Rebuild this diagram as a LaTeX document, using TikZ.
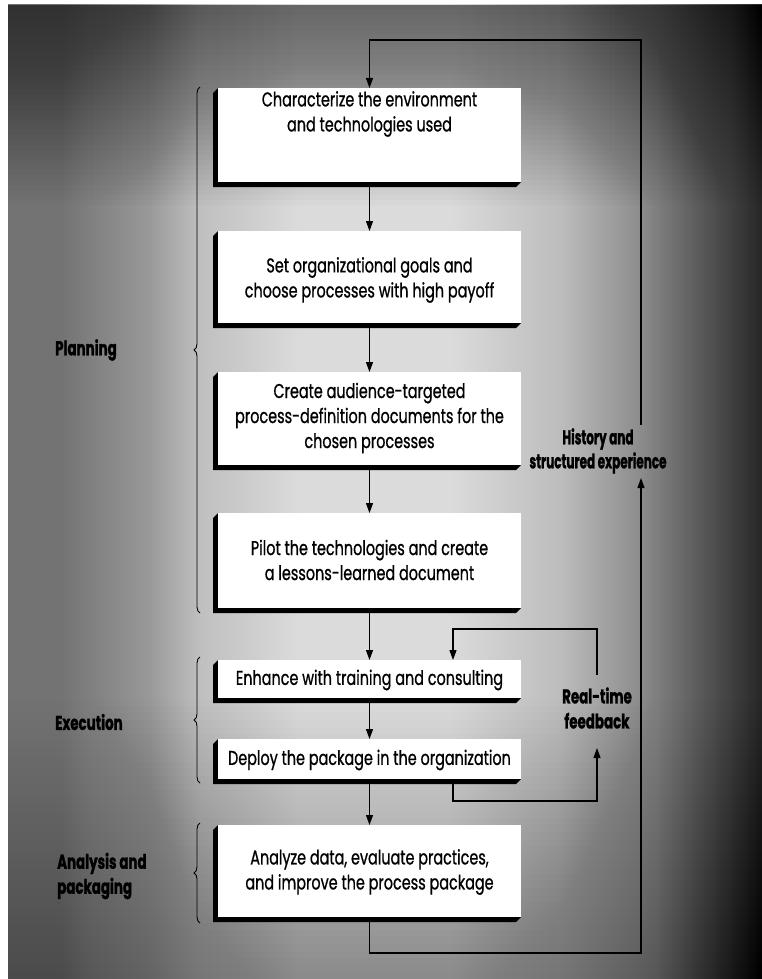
\documentclass[tikz,border=0pt]{standalone}
\usepackage{fontspec}
\setmainfont{Poppins}[FakeStretch=0.72,FakeBold=0.8]
\newfontfamily\lblfont{Poppins}[FakeStretch=0.67,FakeBold=1.2]
\newfontfamily\histfont{Poppins}[FakeStretch=0.6,FakeBold=1.2]
\usetikzlibrary{arrows.meta,decorations.pathreplacing,backgrounds}
\definecolor{gA}{gray}{0.45}
\definecolor{gB}{gray}{0.60}
\definecolor{gC}{gray}{0.75}
\definecolor{gD}{gray}{0.86}
\definecolor{gE}{gray}{0.74}
\definecolor{gF}{gray}{0.55}
\definecolor{gG}{gray}{0.35}
\definecolor{gH}{gray}{0.15}
\pgfdeclarehorizontalshading{bgshade}{100bp}{color(0bp)=(gA); color(25bp)=(gA); color(28.45bp)=(gA); color(34.4bp)=(gB); color(37.7bp)=(gC); color(44.4bp)=(gD); color(54.3bp)=(gD); color(61.6bp)=(gE); color(66.9bp)=(gF); color(70.9bp)=(gG); color(75bp)=(gH); color(100bp)=(gH)}
\tikzset{
  box/.style={fill=white, minimum width=303pt, inner sep=0pt, outer sep=0pt},
  boxtext/.style={font=\fontsize{20}{25}\selectfont, align=center, inner sep=0pt},
  lbl/.style={font=\lblfont\bfseries\fontsize{20}{25}\selectfont, inner sep=0pt},
  histlbl/.style={font=\histfont\bfseries\fontsize{20}{24}\selectfont, inner sep=0pt},
  arr/.style={line width=1.2pt, -{Triangle[length=10pt,width=7pt]}},
  bracebar/.style={line width=0.9pt, decorate, decoration={brace, amplitude=6pt}},
  shadowfill/.style={fill=black}
}
\begin{document}
\begin{tikzpicture}[x=1pt,y=-1pt]
\useasboundingbox (0,0) rectangle (762,979);
% background
\begin{scope}[on background layer]
\fill[white] (0,0) rectangle (762,979);
\shade[shading=bgshade] (8,5) rectangle (762,979);
\foreach \k in {0,...,39}{
  \fill[black, opacity=0.0148] (8,5) rectangle (762,{10+5*\k});
}
\foreach \k in {0,...,39}{
  \fill[black, opacity=0.0089] (8,979) rectangle (762,{972-7*\k});
}
\end{scope}
% boxes
\node[box, minimum height=94pt] (b1) at (369.5,135) {};
\node[box, minimum height=92pt] (b2) at (369.5,277) {};
\node[box, minimum height=93pt] (b3) at (369.5,418.5) {};
\node[box, minimum height=95pt] (b4) at (369.5,560.5) {};
\node[box, minimum height=38pt] (b5) at (369.5,679) {};
\node[box, minimum height=40pt] (b6) at (369.5,759) {};
\node[box, minimum height=92pt] (b7) at (369.5,871) {};
\begin{scope}[on background layer]
\foreach \b in {b1,b2,b3,b4,b5,b6,b7}{
  \fill[shadowfill] (\b.north west) -- ++(-5,5) |- ([xshift=-5pt,yshift=-5pt]\b.south east) -- (\b.south east) -- cycle;
}
\end{scope}
% box texts
\node[boxtext] (t1) at (369.5,114) {Characterize the environment\\and technologies used};
\node[boxtext] (t2) at (369.5,280) {Set organizational goals and\\choose processes with high payoff};
\node[boxtext] (t3) at (369.5,418) {Create audience-targeted\\process-definition documents for the\\chosen processes};
\node[boxtext] (t4) at (369.5,560) {Pilot the technologies and create\\a lessons-learned document};
\node[boxtext] (t5) at (369.5,680) {Enhance with training and consulting};
\node[boxtext] (t6) at (369.5,760) {Deploy the package in the organization};
\node[boxtext] (t7) at (369.5,872) {Analyze data, evaluate practices,\\and improve the process package};
% side labels
\node[lbl, anchor=west] (plan) at (55,350) {Planning};
\node[lbl, anchor=west] (exec) at (55,722) {Execution};
\node[lbl, anchor=west, align=left] (anal) at (57,876) {Analysis and\\packaging};
\node[lbl, align=center] (rt) at (597,708) {Real-time\\feedback};
\node[histlbl, align=center] (hist) at (598,451) {History and\\structured experience};
% braces
\draw[bracebar] (200,613) -- (200,87);
\draw[bracebar] (200,783) -- (200,657);
\draw[bracebar] (200,923) -- (200,823);
% main flow
\draw[arr] (b1) -- (b2);
\draw[arr] (b2) -- (b3);
\draw[arr] (b3) -- (b4);
\draw[arr] (b4) -- (b5);
\draw[arr] (b5) -- (b6);
\draw[arr] (b6) -- (b7);
% real-time feedback loop
\coordinate (f1) at (453,801);
\coordinate (f2) at (597,801);
\coordinate (f3) at (597,748);
\coordinate (f4) at (597,675);
\coordinate (f5) at (597,629);
\coordinate (f6) at (453,629);
\draw[arr] (b6.south -| f1) -- (f1) -- (f2) -- (f3);
\draw[arr] (f4) -- (f5) -- (f6) -- (b5.north -| f6);
% history loop
\coordinate (r1) at (641,953);
\coordinate (htip) at (641,478);
\coordinate (htop) at (641,425);
\coordinate (r2) at (641,40);
\draw[arr] (b7.south) |- (r1) -- (htip);
\draw[arr] (htop) -- (r2) -| (b1.north);
\end{tikzpicture}
\end{document}
